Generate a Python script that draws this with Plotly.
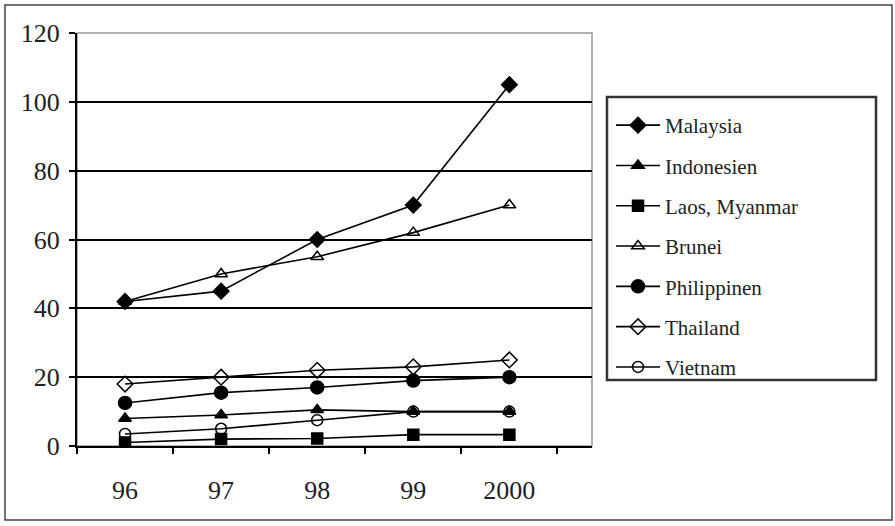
import plotly.graph_objects as go

years = ["96", "97", "98", "99", "2000"]
malaysia = [42, 45, 60, 70, 105]
indonesien = [8, 9, 10.5, 10, 10]
laos_myanmar = [1, 2, 2.2, 3.3, 3.3]
brunei = [42, 50, 55, 62, 70]
philippinen = [12.5, 15.5, 17, 19, 20]
thailand = [18, 20, 22, 23, 25]
vietnam = [3.5, 5, 7.5, 10, 10]

series = [
    ("Malaysia", malaysia, "diamond", 12),
    ("Indonesien", indonesien, "triangle-up", 11),
    ("Laos, Myanmar", laos_myanmar, "square", 11),
    ("Brunei", brunei, "triangle-up-open", 11),
    ("Philippinen", philippinen, "circle", 13),
    ("Thailand", thailand, "diamond-open", 12),
    ("Vietnam", vietnam, "circle-open", 11),
]

FONT = "Liberation Serif, Times New Roman, Times, serif"

fig = go.Figure()
for name, vals, sym, sz in series:
    fig.add_trace(go.Scatter(
        x=years, y=vals, name=name, mode="lines+markers",
        legendgroup=name,
        line=dict(color="black", width=1.6),
        marker=dict(symbol=sym, size=sz, color="black",
                    line=dict(color="black", width=1.5)),
    ))

W, H = 895, 526
L, R, T, B = 77, 592, 33, 446
pw, ph = R - L, B - T

def px(x):
    return (x - L) / pw

def py(y):
    return (B - y) / ph

fig.update_layout(
    width=W, height=H,
    margin=dict(l=L, r=W - R, t=T, b=H - B, autoexpand=False),
    paper_bgcolor="white", plot_bgcolor="white",
    font=dict(family=FONT, color="#222"),
    showlegend=True,
    legend=dict(
        x=px(611), y=py(105), xanchor="left", yanchor="top",
        borderwidth=0,
        font=dict(size=21, family=FONT, color="#222"),
        tracegroupgap=10,
        itemwidth=44,
        bgcolor="rgba(0,0,0,0)",
    ),
    xaxis=dict(
        type="category", range=[-0.5, 4.86],
        tickson="boundaries", ticks="outside", ticklen=6, tickwidth=1.5,
        tickcolor="black", showline=True, linecolor="black", linewidth=2,
        showgrid=False, zeroline=False,
        tickfont=dict(size=26, family=FONT, color="#222"),
        ticklabelstandoff=20,
    ),
    yaxis=dict(
        range=[0, 120], dtick=20, ticks="outside", ticklen=6, tickwidth=1.5,
        tickcolor="black", showline=True, linecolor="black", linewidth=2,
        showgrid=True, gridcolor="black", gridwidth=1.5, zeroline=False,
        tickfont=dict(size=26, family=FONT, color="#222"),
        ticklabelstandoff=4,
    ),
    shapes=[
        dict(type="rect", xref="paper", yref="paper", x0=0, x1=1, y0=0, y1=1,
             line=dict(color="#999", width=1.5), layer="below"),
        dict(type="rect", xref="paper", yref="paper",
             x0=px(5), x1=px(892), y0=py(520), y1=py(5),
             line=dict(color="#444", width=1.5), layer="below"),
        dict(type="rect", xref="paper", yref="paper",
             x0=px(607), x1=px(876), y0=py(380), y1=py(97),
             line=dict(color="#333", width=2.5), layer="below"),
    ],
)

fig.write_html("out.html", config={"displayModeBar": False},
               post_script="document.body.style.margin='0px';")
